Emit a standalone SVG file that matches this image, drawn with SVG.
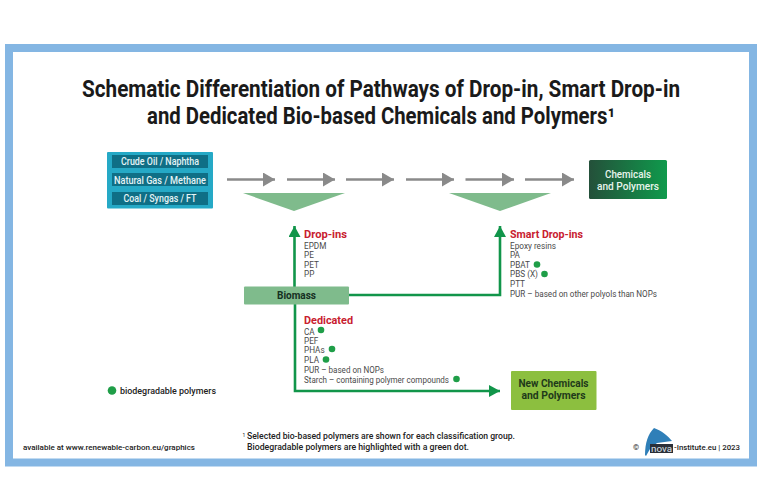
<svg xmlns="http://www.w3.org/2000/svg" width="760" height="503" viewBox="0 0 760 503">
<style>
text{font-family:Roboto,"Liberation Sans",sans-serif}
.t{font-size:23px;font-weight:700;fill:#1a1a1a}
.src{font-size:10px;font-weight:500;fill:#e6f4f6;text-anchor:middle}
.h{font-size:11.500px;font-weight:700;fill:#c8202f}
.i{font-size:8.200px;fill:#4a4a4a}
.n{font-size:8.800px;font-weight:500;fill:#222}
.g{fill:none;stroke:#8a8a8a;stroke-width:2.600}
.gr{fill:none;stroke:#11954a;stroke-width:2.600}
.dot{fill:#1f9e48}
.tri{fill:#7fbb8c}
</style>
<defs>
<marker id="ga" markerUnits="userSpaceOnUse" markerWidth="12" markerHeight="14" refX="12" refY="7" orient="auto"><path d="M0 0L12 7L0 14Z" fill="#8a8a8a"/></marker>
<marker id="ge" markerUnits="userSpaceOnUse" markerWidth="11" markerHeight="12" refX="11" refY="6" orient="auto"><path d="M0 0L11 6L0 12Z" fill="#11954a"/></marker>
<linearGradient id="cp"><stop offset="0" stop-color="#24503a"/><stop offset="1" stop-color="#0f9a4c"/></linearGradient>
</defs>
<rect width="760" height="503" fill="#fff"/>
<rect x="9" y="48" width="744" height="414.500" fill="#fff" stroke="#84b6e3" stroke-width="8"/>
<g id="title">
<text class="t" x="381" y="96.500" text-anchor="middle" textLength="598" lengthAdjust="spacingAndGlyphs">Schematic Differentiation of Pathways of Drop-in, Smart Drop-in</text>
<text class="t" x="147" y="123.500" textLength="468" lengthAdjust="spacingAndGlyphs">and Dedicated Bio-based Chemicals and Polymers¹</text>
</g>
<g id="connectors">
<path class="g" marker-end="url(#ga)" d="M227 179.500H275"/>
<path class="g" marker-end="url(#ga)" d="M287 179.500H335"/>
<path class="g" marker-end="url(#ga)" d="M346 179.500H394"/>
<path class="g" marker-end="url(#ga)" d="M406 179.500H454"/>
<path class="g" marker-end="url(#ga)" d="M465.500 179.500H514"/>
<path class="g" marker-end="url(#ga)" d="M525 179.500H574"/>
<path class="gr" marker-end="url(#ge)" d="M294.500 287V226"/>
<path class="gr" marker-end="url(#ge)" d="M349 295H500V226"/>
<path class="gr" marker-end="url(#ge)" d="M295 304V391H500"/>
</g>
<g id="sources">
<rect x="107" y="152" width="106" height="56.500" rx="1" fill="#25a9c6"/>
<rect x="112" y="155" width="96" height="13" fill="#0f6f86"/>
<rect x="112" y="173" width="96" height="13" fill="#0f6f86"/>
<rect x="112" y="192" width="96" height="13" fill="#0f6f86"/>
<text class="src" x="160" y="165" textLength="78" lengthAdjust="spacingAndGlyphs">Crude Oil / Naphtha</text>
<text class="src" x="160" y="183.500" textLength="92" lengthAdjust="spacingAndGlyphs">Natural Gas / Methane</text>
<text class="src" x="160" y="202" textLength="73" lengthAdjust="spacingAndGlyphs">Coal / Syngas / FT</text>
</g>
<g id="funnel-1"><path class="tri" d="M243 193H345L294 211Z"/></g>
<g id="funnel-2"><path class="tri" d="M449 193H551L500 211Z"/></g>
<g id="chemicals">
<rect x="589" y="160" width="78" height="39" rx="1.500" fill="url(#cp)"/>
<text x="628" y="178" font-size="10.500" font-weight="500" fill="#e8f5ec" text-anchor="middle" textLength="46" lengthAdjust="spacingAndGlyphs">Chemicals</text>
<text x="628" y="189.500" font-size="10.500" font-weight="500" fill="#e8f5ec" text-anchor="middle" textLength="62" lengthAdjust="spacingAndGlyphs">and Polymers</text>
</g>
<g id="biomass">
<rect x="244" y="286.500" width="105" height="18" rx="1" fill="#7fbb8c"/>
<text x="296.500" y="299" font-size="10.500" font-weight="700" fill="#15301f" text-anchor="middle" textLength="39" lengthAdjust="spacingAndGlyphs">Biomass</text>
</g>
<g id="new-chemicals">
<rect x="511" y="371" width="85.500" height="39" rx="1" fill="#8cbf3f"/>
<text x="553.500" y="387" font-size="10.500" font-weight="700" fill="#1f3a1a" text-anchor="middle" textLength="70" lengthAdjust="spacingAndGlyphs">New Chemicals</text>
<text x="553.500" y="399" font-size="10.500" font-weight="700" fill="#1f3a1a" text-anchor="middle" textLength="64" lengthAdjust="spacingAndGlyphs">and Polymers</text>
</g>
<g id="drop-ins">
<text class="h" x="304" y="238" textLength="43" lengthAdjust="spacingAndGlyphs">Drop-ins</text>
<text class="i" x="304" y="248.500">EPDM</text>
<text class="i" x="304" y="258">PE</text>
<text class="i" x="304" y="267.500">PET</text>
<text class="i" x="304" y="277">PP</text>
</g>
<g id="smart-drop-ins">
<text class="h" x="510" y="238" textLength="73" lengthAdjust="spacingAndGlyphs">Smart Drop-ins</text>
<text class="i" x="510" y="248.500" textLength="46" lengthAdjust="spacingAndGlyphs">Epoxy resins</text>
<text class="i" x="510" y="258">PA</text>
<text class="i" x="510" y="267.500">PBAT</text><circle class="dot" cx="537" cy="264.500" r="3.300"/>
<text class="i" x="510" y="277">PBS (X)</text><circle class="dot" cx="544.500" cy="274" r="3.300"/>
<text class="i" x="510" y="287">PTT</text>
<text class="i" x="510" y="297" textLength="147" lengthAdjust="spacingAndGlyphs">PUR – based on other polyols than NOPs</text>
</g>
<g id="dedicated">
<text class="h" x="304" y="324" textLength="49" lengthAdjust="spacingAndGlyphs">Dedicated</text>
<text class="i" x="304" y="334.500">CA</text><circle class="dot" cx="321" cy="330" r="3.300"/>
<text class="i" x="304" y="343.500">PEF</text>
<text class="i" x="304" y="353">PHAs</text><circle class="dot" cx="332" cy="349" r="3.300"/>
<text class="i" x="304" y="363">PLA</text><circle class="dot" cx="326" cy="359.500" r="3.300"/>
<text class="i" x="304" y="373" textLength="80" lengthAdjust="spacingAndGlyphs">PUR – based on NOPs</text>
<text class="i" x="304" y="382.500" textLength="145" lengthAdjust="spacingAndGlyphs">Starch – containing polymer compounds</text><circle class="dot" cx="456.500" cy="379" r="3.300"/>
</g>
<g id="legend">
<circle class="dot" cx="112" cy="390.500" r="4.300"/>
<text class="n" x="120" y="394" textLength="96" lengthAdjust="spacingAndGlyphs">biodegradable polymers</text>
</g>
<g id="notes">
<text x="242.500" y="437" font-size="5" fill="#222">1</text>
<text class="n" x="247" y="439" textLength="268" lengthAdjust="spacingAndGlyphs">Selected bio-based polymers are shown for each classification group.</text>
<text class="n" x="247" y="449.500" textLength="222" lengthAdjust="spacingAndGlyphs">Biodegradable polymers are highlighted with a green dot.</text>
<text x="23" y="450" font-size="7.800" font-weight="500" fill="#222" textLength="172" lengthAdjust="spacingAndGlyphs">available at www.renewable-carbon.eu/graphics</text>
</g>
<g id="logo">
<text x="633" y="450" font-size="7.800" font-weight="500" fill="#222">©</text>
<path d="M645 455C645 443 648 434 654 428C662 431 668 436 672 441L657 443L650 449L646 456Z" fill="#2f7fb8"/>
<rect x="650" y="444" width="23" height="9" fill="#2a2f38"/>
<text x="651" y="451.500" font-size="8.500" fill="#dfe5ea" textLength="21" lengthAdjust="spacingAndGlyphs">nova</text>
<text x="674" y="450" font-size="7.800" font-weight="500" fill="#222" textLength="66" lengthAdjust="spacingAndGlyphs">-Institute.eu | 2023</text>
</g>
</svg>
